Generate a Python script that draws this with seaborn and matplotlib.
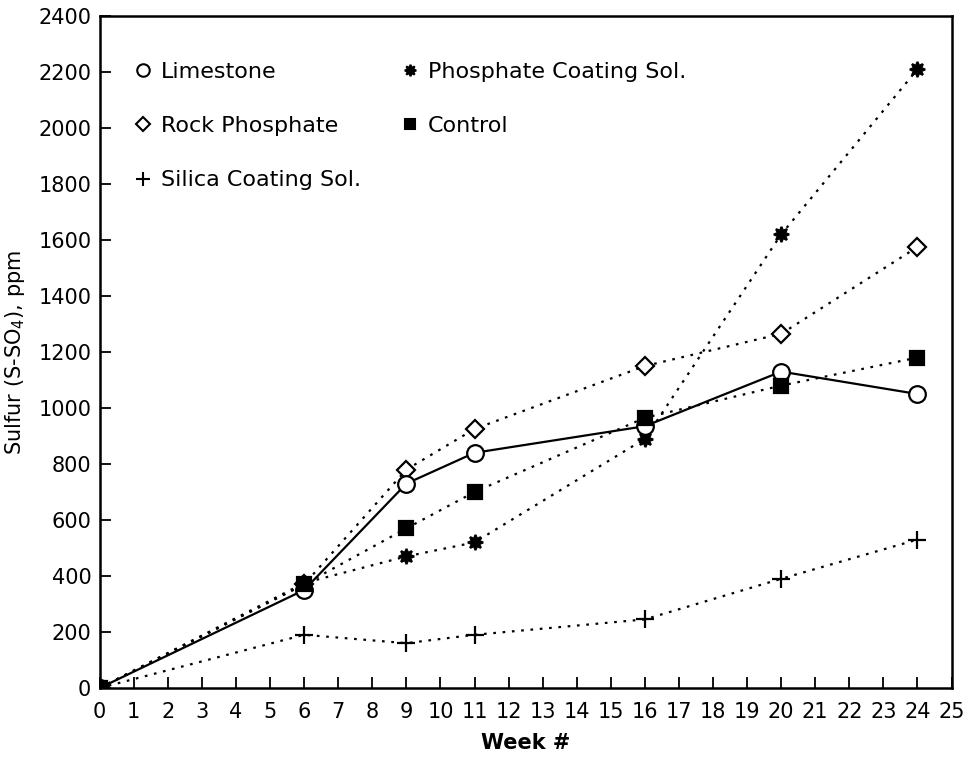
import matplotlib
matplotlib.use("Agg")
import matplotlib.pyplot as plt
from matplotlib.lines import Line2D
import pandas as pd
import seaborn as sns

sns.set_theme(style="ticks")
plt.rcParams["font.family"] = ["DejaVu Sans"]
plt.rcParams["text.color"] = "black"
plt.rcParams["axes.labelcolor"] = "black"

weeks = [0, 6, 9, 11, 16, 20, 24]
limestone = [0, 350, 730, 840, 935, 1130, 1050]
rock_phosphate = [0, 370, 780, 925, 1150, 1265, 1575]
phosphate_coating = [0, 375, 470, 520, 890, 1620, 2210]
control = [0, 370, 570, 700, 965, 1080, 1180]
silica_coating = [0, 190, 160, 190, 245, 390, 530]

names = ["Limestone", "Rock Phosphate", "Silica Coating Sol.",
         "Phosphate Coating Sol.", "Control"]
values = [limestone, rock_phosphate, silica_coating, phosphate_coating, control]

df = pd.concat(
    [pd.DataFrame({"week": weeks, "sulfur": v, "treatment": n}) for n, v in zip(names, values)],
    ignore_index=True,
)

styles = {
    "Limestone": dict(marker="o", ms=12, mfc="white", dashes=""),
    "Rock Phosphate": dict(marker="D", ms=9, mfc="white", dashes=(1.2, 3)),
    "Silica Coating Sol.": dict(marker="+", ms=13, mfc="black", dashes=(1.2, 3)),
    "Phosphate Coating Sol.": dict(marker=(8, 1, 0), ms=11, mfc="black", dashes=(1.2, 3)),
    "Control": dict(marker="s", ms=10, mfc="black", dashes=(1.2, 3)),
}

fig = plt.figure(figsize=(9.68, 7.64), dpi=100)
ax = fig.add_axes([0.103, 0.0995, 0.880, 0.8795])

draw_order = ["Silica Coating Sol.", "Phosphate Coating Sol.", "Rock Phosphate", "Limestone", "Control"]
for i, name in enumerate(draw_order):
    st = styles[name]
    sub = df[df["treatment"] == name]
    line_kws = dict(color="black", lw=1.6, marker=st["marker"], markersize=st["ms"],
                    markerfacecolor=st["mfc"], markeredgecolor="black", markeredgewidth=1.6,
                    zorder=3 + i)
    if st["dashes"]:
        line_kws["dashes"] = st["dashes"]
    sns.lineplot(data=sub, x="week", y="sulfur", ax=ax, legend=False, **line_kws)

ax.set_xlim(0, 25)
ax.set_ylim(0, 2400)
ax.set_xticks(range(0, 26))
ax.set_yticks(range(0, 2401, 200))
ax.tick_params(direction="in", length=8, width=1.3, labelsize=15, colors="black")
ax.tick_params(axis="x", pad=10)
ax.tick_params(axis="y", pad=6)
for sp in ax.spines.values():
    sp.set_linewidth(1.8)
    sp.set_color("black")

ax.set_xlabel("Week #", fontsize=15, fontweight="bold", labelpad=8)
ax.set_ylabel("Sulfur (S-SO$_4$), ppm", fontsize=15, labelpad=8)

handles = []
for name in names:
    st = styles[name]
    handles.append(Line2D([], [], ls="none", color="black", marker=st["marker"],
                          markersize=st["ms"] * 0.75, markerfacecolor=st["mfc"],
                          markeredgecolor="black", markeredgewidth=1.5))
ax.legend(handles, names, loc="upper left", bbox_to_anchor=(0.02, 0.962), ncol=2,
          frameon=False, fontsize=16, handlelength=0.6, handletextpad=0.5,
          labelspacing=1.55, columnspacing=1.9, labelcolor="black")

fig.savefig("out.png", dpi=100)
